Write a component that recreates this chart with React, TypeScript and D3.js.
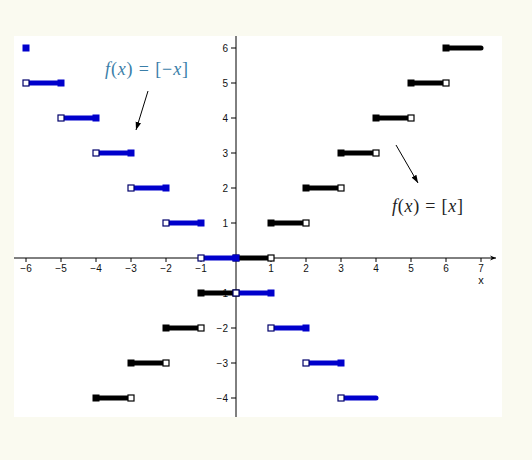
import React from 'react';
import * as d3 from 'd3';

// f(x) = [x]  (black)
const floorSegments = [
  { from: -4, to: -3, y: -4, closed: -4, open: -3 },
  { from: -3, to: -2, y: -3, closed: -3, open: -2 },
  { from: -2, to: -1, y: -2, closed: -2, open: -1 },
  { from: -1, to: 0, y: -1, closed: -1, open: 0 },
  { from: 0, to: 1, y: 0, closed: 0, open: 1 },
  { from: 1, to: 2, y: 1, closed: 1, open: 2 },
  { from: 2, to: 3, y: 2, closed: 2, open: 3 },
  { from: 3, to: 4, y: 3, closed: 3, open: 4 },
  { from: 4, to: 5, y: 4, closed: 4, open: 5 },
  { from: 5, to: 6, y: 5, closed: 5, open: 6 },
  { from: 6, to: 7, y: 6, closed: 6, open: null },
];

// f(x) = [-x]  (blue)
const negSegments = [
  { from: -6, to: -6, y: 6, closed: -6, open: null },
  { from: -6, to: -5, y: 5, closed: -5, open: -6 },
  { from: -5, to: -4, y: 4, closed: -4, open: -5 },
  { from: -4, to: -3, y: 3, closed: -3, open: -4 },
  { from: -3, to: -2, y: 2, closed: -2, open: -3 },
  { from: -2, to: -1, y: 1, closed: -1, open: -2 },
  { from: -1, to: 0, y: 0, closed: 0, open: -1 },
  { from: 0, to: 1, y: -1, closed: 1, open: 0 },
  { from: 1, to: 2, y: -2, closed: 2, open: 1 },
  { from: 2, to: 3, y: -3, closed: 3, open: 2 },
  { from: 3, to: 4, y: -4, closed: null, open: 3 },
];

const xTicks = [-6, -5, -4, -3, -2, -1, 1, 2, 3, 4, 5, 6, 7];
const yTicks = [-4, -3, -2, -1, 1, 2, 3, 4, 5, 6];

type Seg = { from: number; to: number; y: number; closed: number | null; open: number | null };

const W = 532;
const H = 460;
const panel = { left: 14, top: 36, right: 502, bottom: 417 };

const x = d3.scaleLinear().domain([-6, 7]).range([26, 481]);
const y = d3.scaleLinear().domain([-4, 6]).range([398, 48]);

const BLACK = '#000000';
const BLUE = '#0000cc';

const Steps: React.FC<{ data: Seg[]; color: string; border: string }> = ({ data, color, border }) => (
  <g>
    {data.map((d, i) => (
      <g key={i}>
        {d.from !== d.to && (
          <line
            x1={x(d.from)}
            x2={x(d.to)}
            y1={y(d.y)}
            y2={y(d.y)}
            stroke={color}
            strokeWidth={5}
            strokeLinecap="round"
          />
        )}
        {d.closed !== null && (
          <rect x={x(d.closed) - 3.5} y={y(d.y) - 3.5} width={7} height={7} fill={color} />
        )}
        {d.open !== null && (
          <rect
            x={x(d.open) - 3}
            y={y(d.y) - 3}
            width={6}
            height={6}
            fill="#fff"
            stroke={border}
            strokeWidth={1.2}
          />
        )}
      </g>
    ))}
  </g>
);

const App: React.FC = () => {
  const y0 = y(0);
  const x0 = x(0);
  const tickFont = { fontFamily: 'Arial, "Liberation Sans", sans-serif', fontSize: 10, fill: '#111' };
  const mathFont = { fontFamily: '"Liberation Serif", "DejaVu Serif", serif', fontSize: 18 };

  return (
    <svg width={W} height={H} style={{ position: 'absolute', left: 0, top: 0 }}>
      <defs>
        <marker id="arr" viewBox="0 0 10 10" refX="10" refY="5" markerWidth="8" markerHeight="8" orient="auto">
          <path d="M0,1.5 L10,5 L0,8.5 Z" fill="#000" />
        </marker>
        <marker id="axArr" viewBox="0 0 10 10" refX="10" refY="5" markerWidth="6" markerHeight="6" orient="auto">
          <path d="M0,1 L10,5 L0,9 L3,5 Z" fill="#000" />
        </marker>
      </defs>
      <rect width={W} height={H} fill="#fafaf0" />
      <rect
        x={panel.left}
        y={panel.top}
        width={panel.right - panel.left}
        height={panel.bottom - panel.top}
        fill="#ffffff"
      />

      {/* axes */}
      <line x1={panel.left} x2={496} y1={y0} y2={y0} stroke="#000" strokeWidth={1} markerEnd="url(#axArr)" />
      <line x1={x0} x2={x0} y1={panel.top} y2={panel.bottom} stroke="#000" strokeWidth={1} />
      {xTicks.map(t => (
        <g key={t}>
          <line x1={x(t)} x2={x(t)} y1={y0} y2={y0 + 4} stroke="#000" />
          <text x={x(t)} y={y0 + 14} textAnchor="middle" {...tickFont}>
            {t < 0 ? `\u2212${-t}` : t}
          </text>
        </g>
      ))}
      {yTicks.map(t => (
        <g key={t}>
          <line x1={x0 - 5} x2={x0} y1={y(t)} y2={y(t)} stroke="#000" />
          <text x={x0 - 8} y={y(t) + 3.5} textAnchor="end" {...tickFont}>
            {t < 0 ? `\u2212${-t}` : t}
          </text>
        </g>
      ))}
      <text x={x(7)} y={y0 + 26} textAnchor="middle" {...tickFont} fontSize={11}>
        x
      </text>

      <Steps data={floorSegments} color={BLACK} border="#000" />
      <Steps data={negSegments} color={BLUE} border="#00006a" />

      {/* annotations */}
      <text x={105} y={75} fill="#3a7ea8" {...mathFont} textLength={83} lengthAdjust="spacing">
        <tspan fontStyle="italic">f</tspan>(<tspan fontStyle="italic">x</tspan>) = [−<tspan fontStyle="italic">x</tspan>]
      </text>
      <line x1={148} y1={91} x2={136} y2={130} stroke="#000" strokeWidth={1} markerEnd="url(#arr)" />

      <text x={392} y={212} fill="#222" {...mathFont} textLength={71} lengthAdjust="spacing">
        <tspan fontStyle="italic">f</tspan>(<tspan fontStyle="italic">x</tspan>) = [<tspan fontStyle="italic">x</tspan>]
      </text>
      <line x1={396} y1={145} x2={418} y2={183} stroke="#000" strokeWidth={1} markerEnd="url(#arr)" />
    </svg>
  );
};

export default App;
